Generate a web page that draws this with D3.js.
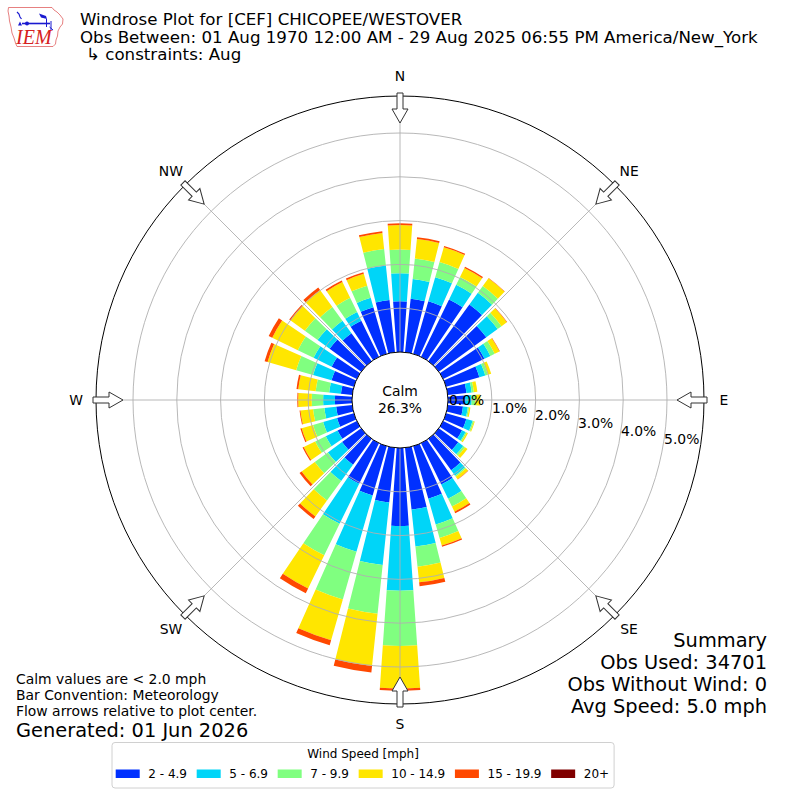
<!DOCTYPE html>
<html lang="en">
<head>
<meta charset="UTF-8">
<title>Windrose Plot</title>
<script src="https://d3js.org/d3.v7.min.js"></script>
<style>
  body { margin: 0; background: #fff; }
  text { font-family: "DejaVu Sans", sans-serif; }
</style>
</head>
<body>
<svg id="chart" width="800" height="800"></svg>
<script>
// wind directions (deg, meteorological: where the wind comes from)
const directions = [0,10,20,30,40,50,60,70,80,90,100,110,120,130,140,150,160,170,
                    180,190,200,210,220,230,240,250,260,270,280,290,300,310,320,330,340,350];

const speedBins = ["2 - 4.9", "5 - 6.9", "7 - 9.9", "10 - 14.9", "15 - 19.9", "20+"];
const binColors = ["#0030ff", "#00d5f8", "#80ff80", "#ffe600", "#ff4800", "#800000"];

// frequency (% of obs) per direction for each speed bin
const freq2 = [1.16,1.23,1.25,1.46,1.60,1.34,1.05,0.79,0.43,0.39,0.35,0.48,0.48,0.55,0.89,1.05,1.25,1.42,
               1.78,1.26,1.17,1.03,0.73,0.54,0.49,0.40,0.37,0.39,0.26,0.53,0.64,0.89,0.79,0.92,1.11,1.20];
const freq5 = [0.64,0.45,0.57,0.37,0.33,0.32,0.15,0.14,0.12,0.15,0.11,0.15,0.09,0.14,0.15,0.36,0.61,0.85,
               1.48,1.43,1.34,1.02,0.46,0.40,0.30,0.33,0.27,0.27,0.27,0.44,0.46,0.34,0.35,0.22,0.22,0.79];
const freq7 = [0.54,0.47,0.36,0.20,0.19,0.11,0.11,0.06,0.05,0.09,0.03,0.03,0.03,0.05,0.03,0.20,0.32,0.46,
               1.26,1.12,1.13,0.80,0.55,0.37,0.27,0.24,0.26,0.26,0.31,0.40,0.40,0.36,0.39,0.36,0.29,0.38];
const freq10 = [0.56,0.45,0.35,0.23,0.22,0.15,0.12,0.08,0.08,0.11,0.03,0.02,0.03,0.07,0.07,0.13,0.18,0.36,
                0.97,1.20,0.97,0.84,0.45,0.37,0.29,0.27,0.29,0.31,0.40,0.68,0.65,0.40,0.48,0.40,0.28,0.37];
const freq15 = [0.04,0.04,0.03,0.03,0.01,0.01,0.01,0,0,0,0,0,0,0,0.01,0.04,0.03,0.09,
                0.05,0.15,0.12,0.12,0.07,0.06,0.03,0.03,0.02,0.02,0.04,0.07,0.09,0.04,0.07,0.04,0.04,0.04];
const freq20 = [0,0,0,0,0,0,0,0,0,0,0,0,0,0,0,0,0,0,
                0,0,0,0,0,0,0,0,0,0,0,0,0,0,0,0,0,0];

const ringTicks = [0, 1, 2, 3, 4, 5];
const compassLabels = ["N", "NE", "E", "SE", "S", "SW", "W", "NW"];
const compassAngles = [0, 45, 90, 135, 180, 225, 270, 315];

const calmPct = "26.3%";
const titleLines = ["Windrose Plot for [CEF] CHICOPEE/WESTOVER",
                    "Obs Between: 01 Aug 1970 12:00 AM - 29 Aug 2025 06:55 PM America/New_York"];
const constraintLine = "\u21b3 constraints: Aug";
const summaryLines = ["Summary", "Obs Used: 34701", "Obs Without Wind: 0", "Avg Speed: 5.0 mph"];
const noteLines = ["Calm values are < 2.0 mph", "Bar Convention: Meteorology", "Flow arrows relative to plot center."];
const generatedLine = "Generated: 01 Jun 2026";

const svg = d3.select("#chart");
const cx = 400, cy = 400;
const rMax = 5.845;           // radial axis limit in %
const r = d3.scaleLinear().domain([0, rMax]).range([48, 304]);
const deg = Math.PI / 180;
const barWidth = 10 * 0.8 * deg;

const series = [freq2, freq5, freq7, freq10, freq15, freq20];

// build stacked table
const table = directions.map((d, i) => {
    const row = { dir: d };
    speedBins.forEach((b, j) => row[b] = series[j][i]);
    return row;
});
const stacked = d3.stack().keys(speedBins)(table);

const g = svg.append("g").attr("transform", `translate(${cx},${cy})`);

const arc = d3.arc();
stacked.forEach((layer, j) => {
    g.append("g")
        .selectAll("path")
        .data(layer)
        .join("path")
        .attr("d", d => {
            if (d[1] - d[0] <= 0) return null;
            const a = d.data.dir * deg;
            return arc({
                innerRadius: r(d[0]),
                outerRadius: r(d[1]),
                startAngle: a - barWidth / 2,
                endAngle: a + barWidth / 2
            });
        })
        .attr("fill", binColors[j]);
});

// grid over the bars
g.append("g").selectAll("circle")
    .data(ringTicks.filter(t => t > 0))
    .join("circle")
    .attr("r", d => r(d))
    .attr("fill", "none")
    .attr("stroke", "#b0b0b0")
    .attr("stroke-width", 0.9);

g.append("g").selectAll("line")
    .data(compassAngles)
    .join("line")
    .attr("x1", d => r(0) * Math.sin(d * deg))
    .attr("y1", d => -r(0) * Math.cos(d * deg))
    .attr("x2", d => r(rMax) * Math.sin(d * deg))
    .attr("y2", d => -r(rMax) * Math.cos(d * deg))
    .attr("stroke", "#b0b0b0")
    .attr("stroke-width", 0.9);

// outer frame
g.append("circle")
    .attr("r", r(rMax))
    .attr("fill", "none")
    .attr("stroke", "#000")
    .attr("stroke-width", 1);

// calm circle
g.append("circle")
    .attr("r", r(0))
    .attr("fill", "#fff")
    .attr("stroke", "#000")
    .attr("stroke-width", 1);

g.append("text")
    .attr("x", 0).attr("y", -4)
    .attr("text-anchor", "middle")
    .style("font-size", "13.9px")
    .text("Calm");
g.append("text")
    .attr("x", 0).attr("y", 13)
    .attr("text-anchor", "middle")
    .style("font-size", "13.9px")
    .text(calmPct);

// flow arrows pointing to the center
const arrowPath = d3.line()([
    [-3, -307], [3, -307], [3, -291], [8, -291], [0, -277], [-8, -291], [-3, -291]
]) + "Z";
g.append("g").selectAll("path")
    .data(compassAngles)
    .join("path")
    .attr("d", arrowPath)
    .attr("transform", d => `rotate(${d})`)
    .attr("fill", "#fff")
    .attr("stroke", "#333")
    .attr("stroke-width", 1);

// compass labels
g.append("g").selectAll("text")
    .data(compassLabels)
    .join("text")
    .attr("x", (d, i) => 324 * Math.sin(compassAngles[i] * deg))
    .attr("y", (d, i) => -324 * Math.cos(compassAngles[i] * deg) + 5)
    .attr("text-anchor", "middle")
    .style("font-size", "13.9px")
    .text(d => d);

// radial tick labels
g.append("g").selectAll("text")
    .data(ringTicks)
    .join("text")
    .attr("x", d => r(0) + (r(d) - r(0)) * 0.982 + 1)
    .attr("y", d => (r(d) - r(0)) * 0.176 + 5)
    .style("font-size", "13.9px")
    .text(d => d.toFixed(1) + "%");

// titles
svg.append("g").selectAll("text")
    .data(titleLines)
    .join("text")
    .attr("x", 80)
    .attr("y", (d, i) => 25 + i * 17.5)
    .style("font-size", "16.67px")
    .text(d => d);
svg.append("text")
    .attr("x", 86).attr("y", 60)
    .style("font-size", "16.67px")
    .text(constraintLine);

// summary
svg.append("g").selectAll("text")
    .data(summaryLines)
    .join("text")
    .attr("x", 767)
    .attr("y", (d, i) => 647 + i * 21.9)
    .attr("text-anchor", "end")
    .style("font-size", "19.4px")
    .text(d => d);

// notes
svg.append("g").selectAll("text")
    .data(noteLines)
    .join("text")
    .attr("x", 16)
    .attr("y", (d, i) => 684 + i * 15.8)
    .style("font-size", "13.9px")
    .text(d => d);
svg.append("text")
    .attr("x", 16).attr("y", 737)
    .style("font-size", "19.4px")
    .text(generatedLine);

// legend
const leg = svg.append("g");
const legBox = leg.append("rect")
    .attr("x", 112).attr("y", 742.5)
    .attr("height", 45.5)
    .attr("rx", 3)
    .attr("fill", "#fff")
    .attr("stroke", "#d0d0d0")
    .attr("stroke-width", 1);
let lx = 115.7;
speedBins.forEach((b, j) => {
    leg.append("rect")
        .attr("x", lx).attr("y", 769.5)
        .attr("width", 24).attr("height", 8.5)
        .attr("fill", binColors[j]);
    const t = leg.append("text")
        .attr("x", lx + 32.6).attr("y", 778.3)
        .style("font-size", "12px")
        .text(b);
    lx += 32.6 + t.node().getComputedTextLength() + 9.7;
});
const legW = lx - 9.7 + 5 - 112;
legBox.attr("width", legW);
leg.append("text")
    .attr("x", 112 + legW / 2).attr("y", 757.5)
    .attr("text-anchor", "middle")
    .style("font-size", "12px")
    .text("Wind Speed [mph]");

// IEM logo
const logo = svg.append("g");
logo.append("path")
    .attr("d", "M8.5,7.5 L52,7.5 L54,10 L57,12 L60,15 L63,19 L62.5,24 L60,27 L58,31 L57.5,36 L56,40 L55.5,44 L53,46.5 L17,46.5 L15.5,43 L14,38 L12,33 L11,27 L9.5,21 L9,16 L8,11 Z")
    .attr("fill", "#fff")
    .attr("stroke", "#e06060")
    .attr("stroke-width", 0.8);
logo.append("path")
    .attr("d", "M17,12 L19,14 L20,17 L21.5,19")
    .attr("fill", "none").attr("stroke", "#1a1ad0").attr("stroke-width", 1.2);
logo.append("path")
    .attr("d", "M18,25.5 L20,21.5 L22,25.5 Z").attr("fill", "#1a1ad0");
logo.append("line")
    .attr("x1", 22).attr("y1", 23.5).attr("x2", 50).attr("y2", 23.5)
    .attr("stroke", "#1a1ad0").attr("stroke-width", 1.6);
logo.append("circle").attr("cx", 27).attr("cy", 23.5).attr("r", 2).attr("fill", "#1a1ad0");
logo.append("path")
    .attr("d", "M39,13.5 L46,16 L47,19 L41,17.5 Z").attr("fill", "#1a1ad0");
logo.append("line")
    .attr("x1", 46.5).attr("y1", 19).attr("x2", 46.5).attr("y2", 27)
    .attr("stroke", "#1a1ad0").attr("stroke-width", 1);
logo.append("path")
    .attr("d", "M51,21 L51,30 M49.5,27 L53,30")
    .attr("fill", "none").attr("stroke", "#1a1ad0").attr("stroke-width", 1);
logo.append("text")
    .attr("x", 16).attr("y", 43.5)
    .style("font-family", "'Liberation Serif', serif")
    .style("font-style", "italic")
    .style("font-size", "20px")
    .attr("fill", "#d62020")
    .text("IEM");
</script>
</body>
</html>
